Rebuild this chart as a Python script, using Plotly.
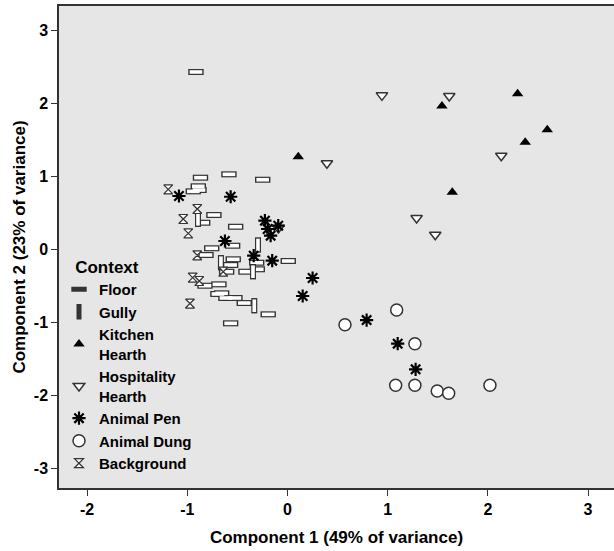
import plotly.graph_objects as go

# component scores, one pair of lists per context
floor_x = [-0.913, -0.868, -0.584, -0.247, -0.890, -0.940, -0.883, -0.734, -0.846, -0.517,
           -0.547, -0.756, -0.813, -0.541, -0.567, -0.307, -0.607, -0.414, -0.301, 0.008,
           -0.823, -0.684, -0.657, -0.694, -0.614, -0.524, -0.431, -0.192, -0.567]
floor_y = [2.425, 0.977, 1.023, 0.949, 0.859, 0.790, 0.808, 0.466, 0.360, 0.305,
           0.045, 0.010, -0.082, -0.141, -0.219, -0.188, -0.311, -0.311, -0.278, -0.164,
           -0.503, -0.484, -0.607, -0.616, -0.671, -0.671, -0.740, -0.895, -1.018]

gully_x = [-0.893, -0.294, -0.664, -0.344, -0.331]
gully_y = [0.407, 0.055, -0.188, -0.311, -0.777]

kitchen_x = [2.297, 1.542, 2.593, 2.373, 1.645, 0.108]
kitchen_y = [2.127, 1.959, 1.634, 1.462, 0.777, 1.264]

hosp_x = [0.943, 1.615, 0.394, 2.134, 1.289, 1.475, -0.090]
hosp_y = [2.105, 2.096, 1.174, 1.278, 0.425, 0.196, 0.288]

pen_x = [-1.083, -0.567, -0.225, -0.198, -0.168, -0.092, -0.624, -0.337, -0.152,
         0.251, 0.152, 0.790, 1.100, 1.279]
pen_y = [0.726, 0.716, 0.388, 0.274, 0.182, 0.319, 0.110, -0.092, -0.160,
         -0.397, -0.644, -0.973, -1.297, -1.648]

dung_x = [1.090, 0.574, 1.272, 1.080, 1.272, 1.495, 1.609, 2.021]
dung_y = [-0.836, -1.037, -1.297, -1.867, -1.867, -1.945, -1.977, -1.867]

back_x = [-1.190, -0.900, -1.040, -0.990, -0.900, -0.641, -0.946, -0.880, -0.973]
back_y = [0.818, 0.548, 0.411, 0.215, -0.086, -0.311, -0.393, -0.438, -0.747]

ticks = [-3, -2, -1, 0, 1, 2, 3]
tick_labels = ["-3", "-2", "-1", "0", "1", "2", "3"]

FONT = "Arial, Liberation Sans, sans-serif"
DARK = "#333333"

fig = go.Figure()

# hollow rectangles: a dark bar with a white bar inside it
fig.add_trace(go.Scatter(x=floor_x, y=floor_y, mode="markers", name="Floor",
                         marker=dict(symbol="line-ew", size=11, line=dict(width=6, color=DARK))))
fig.add_trace(go.Scatter(x=floor_x, y=floor_y, mode="markers", showlegend=False,
                         marker=dict(symbol="line-ew", size=9, line=dict(width=3.6, color="white"))))
fig.add_trace(go.Scatter(x=gully_x, y=gully_y, mode="markers", name="Gully",
                         marker=dict(symbol="line-ns", size=11, line=dict(width=6, color=DARK))))
fig.add_trace(go.Scatter(x=gully_x, y=gully_y, mode="markers", showlegend=False,
                         marker=dict(symbol="line-ns", size=9, line=dict(width=3.6, color="white"))))

fig.add_trace(go.Scatter(x=kitchen_x, y=kitchen_y, mode="markers", name="Kitchen<br>Hearth",
                         marker=dict(symbol="triangle-up", size=10, color="black")))
fig.add_trace(go.Scatter(x=hosp_x, y=hosp_y, mode="markers", name="Hospitality<br>Hearth",
                         marker=dict(symbol="triangle-down", size=10, color="white",
                                     line=dict(width=1.5, color=DARK))))
fig.add_trace(go.Scatter(x=pen_x, y=pen_y, mode="markers", name="Animal Pen",
                         marker=dict(symbol="asterisk", size=11, line=dict(width=2.2, color="black"))))
fig.add_trace(go.Scatter(x=dung_x, y=dung_y, mode="markers", name="Animal Dung",
                         marker=dict(symbol="circle", size=12, color="white",
                                     line=dict(width=1.5, color=DARK))))
fig.add_trace(go.Scatter(x=back_x, y=back_y, mode="markers", name="Background",
                         marker=dict(symbol="hourglass", size=9, color="white",
                                     line=dict(width=1.2, color=DARK))))

fig.update_layout(
    width=614, height=551,
    margin=dict(l=59, r=0, t=6, b=63),
    paper_bgcolor="white",
    plot_bgcolor="#e6e6e6",
    font=dict(family=FONT, size=16, color="black", weight="bold"),
    legend=dict(
        title=dict(text="&nbsp;&nbsp;&nbsp;Context", font=dict(size=17, weight="bold")),
        font=dict(size=15, weight="bold"),
        x=0, y=0.492, xanchor="left", yanchor="top",
        bgcolor="rgba(0,0,0,0)",
        tracegroupgap=0,
    ),
)
fig.update_xaxes(
    range=[-2.280, 3.259], tickvals=ticks[1:], ticktext=tick_labels[1:],
    showgrid=False, zeroline=False, automargin=False,
    showline=True, linecolor=DARK, linewidth=1.5, mirror=True,
    ticks="outside", ticklen=6, tickcolor=DARK, tickfont=dict(size=16),
    title=dict(text="Component 1 (49% of variance)", font=dict(size=17, weight="bold"), standoff=14),
)
fig.update_yaxes(
    range=[-3.274, 3.329], tickvals=ticks, ticktext=tick_labels,
    showgrid=False, zeroline=False, automargin=False,
    showline=True, linecolor=DARK, linewidth=1.5,
    ticks="outside", ticklen=6, tickcolor=DARK, tickfont=dict(size=16),
    title=dict(text="Component 2 (23% of variance)", font=dict(size=17, weight="bold"), standoff=4),
)

# drop the page's default body margin so the figure fills the window exactly
fig.write_html("out.html", config={"displayModeBar": False},
               post_script="document.body.style.margin='0';")
